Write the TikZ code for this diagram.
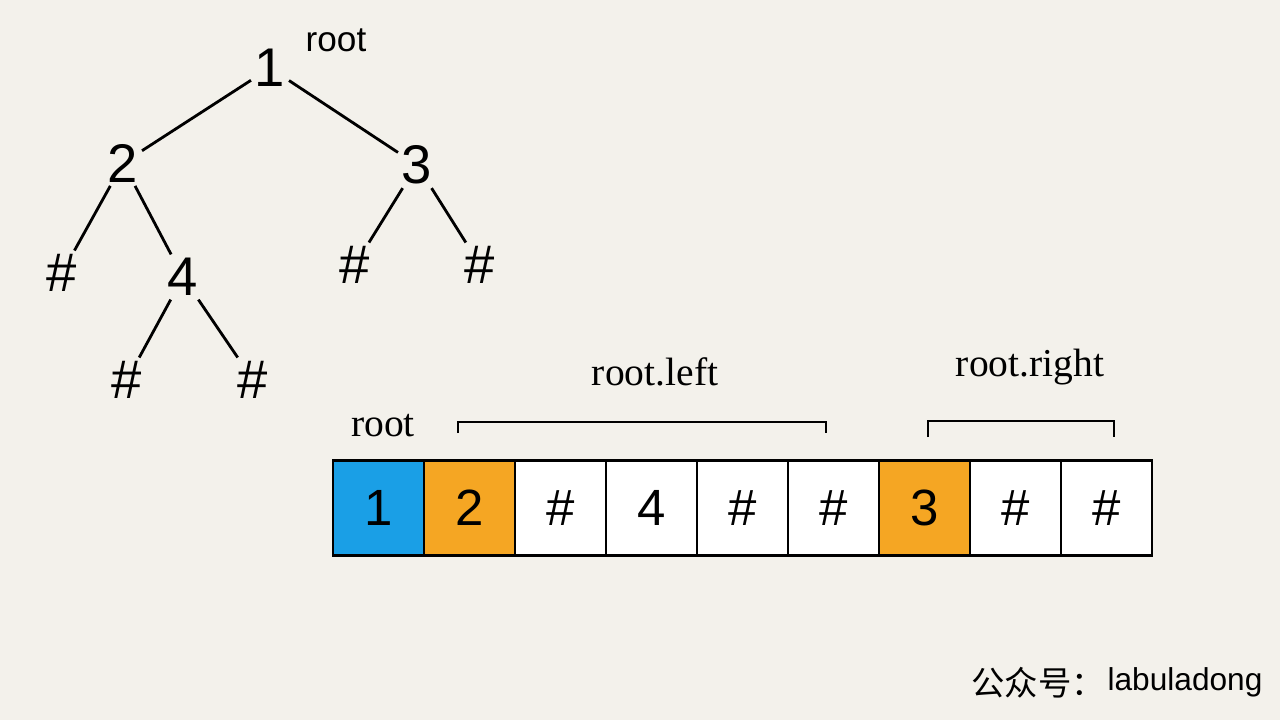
\documentclass[tikz,border=0pt]{standalone}
\usepackage{fontspec}
\setmainfont{Liberation Serif}
\setsansfont{Liberation Sans}
\newfontfamily\cjk{Noto Sans CJK SC}
\definecolor{paper}{HTML}{F3F1EB}
\definecolor{rootblue}{HTML}{1A9FE6}
\definecolor{suborange}{HTML}{F5A623}
\begin{document}
\begin{tikzpicture}[x=0.02cm,y=-0.02cm,
  tnode/.style={font=\fontsize{31}{31}\sffamily,inner sep=2pt},
  tlink/.style={line width=1.6pt},
  cell/.style={draw,line width=1.6pt,minimum width=1.82cm,minimum height=1.9cm,inner sep=0pt,font=\fontsize{29}{29}\sffamily},
  tag/.style={font=\fontsize{22.5}{22.5}\selectfont},
  brace/.style={line width=1.4pt}]
\fill[paper] (0,0) rectangle (1280,720);
% tree
\node[tnode] (n1) at (270,68) {1};
\node[font=\fontsize{20}{20}\sffamily] (lroot) at (336,40) {root};
\node[tnode] (n2) at (123,163) {2};
\node[tnode] (n3) at (417,165) {3};
\node[tnode] (n2l) at (62,273) {\#};
\node[tnode] (n4) at (183,277) {4};
\node[tnode] (n3l) at (355,265) {\#};
\node[tnode] (n3r) at (480,265) {\#};
\node[tnode] (n4l) at (127,380) {\#};
\node[tnode] (n4r) at (253,380) {\#};
\foreach \a/\b in {n1/n2,n1/n3,n2/n2l,n2/n4,n3/n3l,n3/n3r,n4/n4l,n4/n4r}
  \draw[tlink] (\a) -- (\b);
% serialized array
\foreach \i/\t/\f in {0/1/rootblue,1/2/suborange,2/\#/white,3/4/white,4/\#/white,5/\#/white,6/3/suborange,7/\#/white,8/\#/white}
  \node[cell,fill=\f] (c\i) at (378.5+91*\i,508) {\t};
\node[tag] (troot) at (383,426) {root};
\node[tag] (tleft) at (655,372) {root.left};
\node[tag] (tright) at (1030,367) {root.right};
\draw[brace] (458,433) -- (458,422) -- (826,422) -- (826,433);
\draw[brace] (928,437) -- (928,421) -- (1114,421) -- (1114,437);
% watermark
\node[font=\cjk\fontsize{19}{19}\selectfont] (wm) at (1038,683) {公众号：};
\node[font=\fontsize{18}{18}\sffamily] (wname) at (1185,682) {labuladong};
\end{tikzpicture}
\end{document}
